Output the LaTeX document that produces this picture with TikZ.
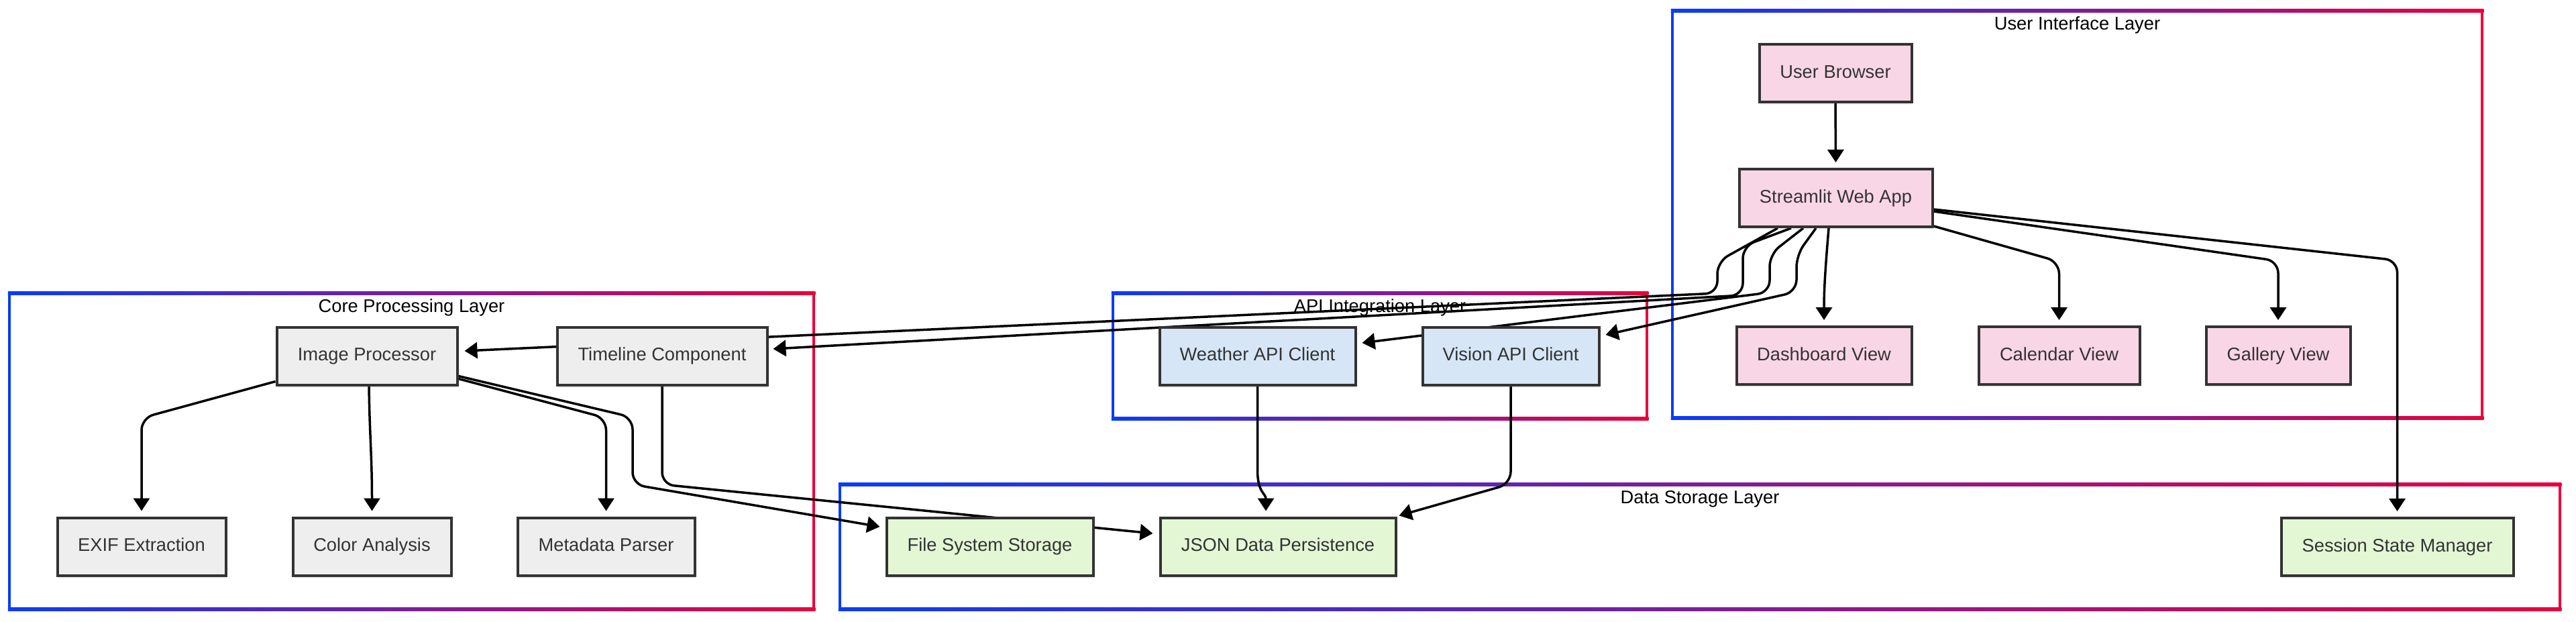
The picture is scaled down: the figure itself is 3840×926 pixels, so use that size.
\documentclass[tikz,border=0pt]{standalone}
\usepackage{fontspec}
\setmainfont{Liberation Sans}
\usetikzlibrary{arrows.meta,calc,shadows}
\definecolor{fblue}{RGB}{10,60,250}
\definecolor{fred}{RGB}{235,0,60}
\definecolor{pinkc}{RGB}{249,214,229}
\definecolor{greyc}{RGB}{238,238,238}
\definecolor{bluec}{RGB}{214,230,247}
\definecolor{greenc}{RGB}{227,247,213}
\definecolor{bordc}{RGB}{51,51,51}
\definecolor{textc}{RGB}{51,51,51}
\pgfdeclarelayer{bgwhite}
\pgfdeclarelayer{frames}
\pgfdeclarelayer{edges}
\pgfsetlayers{bgwhite,frames,edges,main}
\newcommand\layerbox[6]{%
  \shade[left color=fblue,right color=fred] (#2-2.25,#3-2.25) rectangle (#4+2.25,#3+2.25);
  \shade[left color=fblue,right color=fred] (#2-2.25,#5-2.25) rectangle (#4+2.25,#5+2.25);
  \fill[fblue] (#2-2.25,#3-2.25) rectangle (#2+2.25,#5+2.25);
  \fill[fred] (#4-2.25,#3-2.25) rectangle (#4+2.25,#5+2.25);
  \node[ttl] (#1) at ({(#2+#4)/2},#3+21) {#6};
}
\begin{document}
\begin{tikzpicture}[x=1pt,y=-1pt,
  ttl/.style={font=\fontsize{27.3}{32}\selectfont, text=black, inner sep=0pt, text height=20pt, text depth=6pt},
  nbox/.style={draw=bordc, line width=4pt, text=textc, minimum height=86pt, inner sep=0pt,
    text height=20pt, text depth=6pt,
    font=\fontsize{27.3}{32}\selectfont,
    drop shadow={shadow xshift=1pt,shadow yshift=-4pt,opacity=0.15}},
  conn/.style={line width=3.5pt, draw=black, -{Triangle[length=19pt,width=24pt]}, rounded corners=18pt},
  sconn/.style={line width=3.5pt, draw=black, -{Triangle[length=19pt,width=24pt]}}
]
\useasboundingbox (0,0) rectangle (3840,926);
\begin{pgfonlayer}{bgwhite}
\fill[white] (0,0) rectangle (3840,926);
\end{pgfonlayer}

% nodes
\node[nbox, fill=pinkc, minimum width=227pt] (ub) at (2736,109) {User Browser};
\node[nbox, fill=pinkc, minimum width=288pt] (sw) at (2736.5,295) {Streamlit Web App};
\node[nbox, fill=pinkc, minimum width=261pt] (db) at (2719,530) {Dashboard View};
\node[nbox, fill=pinkc, minimum width=240pt] (cal) at (3069.5,530) {Calendar View};
\node[nbox, fill=pinkc, minimum width=215pt] (gal) at (3396,530) {Gallery View};

\node[nbox, fill=greyc, minimum width=269pt] (ip) at (547,530.5) {Image Processor};
\node[nbox, fill=greyc, minimum width=313pt] (tl) at (987,530.5) {Timeline Component};
\node[nbox, fill=greyc, minimum width=251pt] (exif) at (211,814.5) {EXIF Extraction};
\node[nbox, fill=greyc, minimum width=236pt] (col) at (554.5,814.5) {Color Analysis};
\node[nbox, fill=greyc, minimum width=264pt] (meta) at (903.5,814.5) {Metadata Parser};

\node[nbox, fill=bluec, minimum width=292pt] (wea) at (1874.5,530.5) {Weather API Client};
\node[nbox, fill=bluec, minimum width=263pt] (vis) at (2252,530.5) {Vision API Client};

\node[nbox, fill=greenc, minimum width=308pt] (fs) at (1475.5,814.5) {File System Storage};
\node[nbox, fill=greenc, minimum width=351pt] (json) at (1905,814.5) {JSON Data Persistence};
\node[nbox, fill=greenc, minimum width=346pt] (ssm) at (3573.5,815) {Session State Manager};

% frames
\begin{pgfonlayer}{frames}
\layerbox{tcore}{14}{437}{1213}{908}{Core Processing Layer}
\layerbox{tapi}{1659}{437}{2455}{624}{API Integration Layer}
\layerbox{tui}{2493}{16}{3700}{623}{User Interface Layer}
\layerbox{tdata}{1252}{722}{3816}{908}{Data Storage Layer}
\end{pgfonlayer}

% edges
\begin{pgfonlayer}{edges}
\draw[conn] (ub.south) -- ($(sw.north)+(0,-8)$);
\draw[sconn] ($(sw.south)+(-10.5,0)$) .. controls (2721,400) and (2719,430) .. ($(db.north)+(0,-8)$);
\draw[conn] ($(sw.south east)+(0,-3)$) -- (3069.5,390) -- ($(cal.north)+(0,-8)$);
\draw[conn] ($(sw.east)+(0,20)$) -- (3396,389) -- ($(gal.north)+(0,-8)$);
\draw[conn] ($(sw.east)+(0,17)$) -- (3573.5,388) -- ($(ssm.north)+(0,-8)$);
\draw[conn] ($(sw.south)+(-29.5,0)$) -- (2678,380) -- (2678,435) -- ($(vis.east)+(8,-31.5)$);
\draw[conn] ($(sw.south)+(-48.5,0)$) -- (2638,379) -- (2638,436) -- ($(wea.east)+(8,-19.5)$);
\draw[conn] ($(sw.south)+(-66.5,0)$) -- (2598,367) -- (2598,440) -- ($(tl.east)+(7,-10.5)$);
\draw[conn] ($(sw.south)+(-86.5,0)$) -- (2560,390) -- (2560,437) -- ($(ip.east)+(9,-7.5)$);

\draw[conn] ($(ip.south west)+(0,-7)$) -- (211,623) -- ($(exif.north)+(0,-8)$);
\draw[sconn] ($(ip.south)+(3,0)$) .. controls (551,650) and (554.5,680) .. ($(col.north)+(0,-8)$);
\draw[conn] ($(ip.east)+(0,34)$) -- (903.5,623) -- ($(meta.north)+(0,-8)$);
\draw[conn] ($(ip.east)+(0,30)$) -- (943,622) -- (943,722) -- ($(fs.west)+(-8,-29.5)$);
\draw[conn] (tl.south) -- (987,722) -- ($(json.west)+(-9,-19.5)$);
\draw[sconn] (wea.south) -- (1874.5,700) .. controls (1874.5,735) and (1887,735) .. ($(json.north)+(-18,-8)$);
\draw[conn] (vis.south) -- (2252,721) -- ($(json.north east)+(3,-1)$);
\end{pgfonlayer}
\end{tikzpicture}
\end{document}
